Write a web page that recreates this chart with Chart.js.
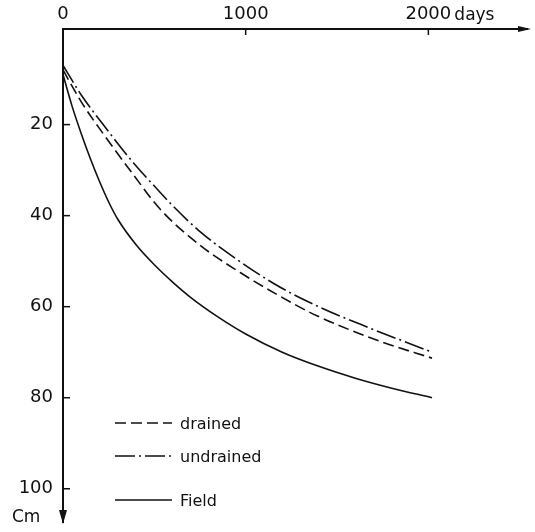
<!DOCTYPE html>
<html>
<head>
<meta charset="utf-8">
<script src="https://cdn.jsdelivr.net/npm/chart.js@4/dist/chart.umd.min.js"></script>
<style>
  html, body { margin: 0; padding: 0; background: #fff; }
  #wrap { width: 535px; height: 532px; }
</style>
</head>
<body>
<div id="wrap"><canvas id="myChart" width="535" height="532"></canvas></div>
<script>
// settlement curves, depth in cm against time in days
var drainedDays = [0, 100, 220, 385, 530, 750, 970, 1170, 1390, 1750, 2020];
var drainedDepth = [8, 15, 22, 31, 38.5, 46.5, 52.5, 57.3, 62, 67.8, 71.3];

var undrainedDays = [0, 100, 220, 385, 500, 600, 750, 930, 1170, 1400, 1680, 2020];
var undrainedDepth = [7, 13.5, 20, 28.4, 33.5, 37.8, 43.5, 49, 55.3, 60, 64.7, 70];

var fieldDays = [0, 50, 100, 150, 200, 250, 300, 400, 500, 600, 700, 850, 1000, 1200, 1400, 1600, 1800, 2020];
var fieldDepth = [9, 16, 22, 27.5, 32.5, 37, 40.8, 46.4, 50.8, 54.6, 58, 62.3, 66, 70, 73.1, 75.7, 77.9, 80];

var seriesLabels = ['drained', 'undrained', 'Field'];
var xTicks = [0, 1000, 2000];
var yTicks = [20, 40, 60, 80, 100];

function pts(xs, ys) {
  return xs.map(function (v, i) { return { x: v, y: ys[i] }; });
}

var ink = '#111';

// axis ticks pointing inwards, arrows, hand-placed legend and units
var extras = {
  id: 'extras',
  afterDraw: function (chart) {
    var ctx = chart.ctx, a = chart.chartArea;
    var sx = chart.scales.x, sy = chart.scales.y;
    ctx.save();
    ctx.strokeStyle = ink;
    ctx.fillStyle = ink;
    ctx.lineWidth = 1.5;
    function line(x1, y1, x2, y2) {
      ctx.beginPath(); ctx.moveTo(x1, y1); ctx.lineTo(x2, y2); ctx.stroke();
    }
    yTicks.forEach(function (v) {
      var py = sy.getPixelForValue(v);
      line(a.left, py, a.left + 7, py);
    });
    xTicks.slice(1).forEach(function (v) {
      var px = sx.getPixelForValue(v);
      line(px, a.top, px, a.top + 6);
    });
    // arrow heads
    ctx.beginPath();
    ctx.moveTo(a.right + 4, a.top);
    ctx.lineTo(a.right - 9, a.top - 3);
    ctx.lineTo(a.right - 9, a.top + 3);
    ctx.closePath(); ctx.fill();
    ctx.beginPath();
    ctx.moveTo(a.left, a.bottom + 2);
    ctx.lineTo(a.left - 4, a.bottom - 12);
    ctx.lineTo(a.left + 4, a.bottom - 12);
    ctx.closePath(); ctx.fill();

    // legend
    var legendY = [423, 456, 500];
    ctx.font = '16px "DejaVu Sans"';
    ctx.textBaseline = 'middle';
    ctx.textAlign = 'left';
    chart.data.datasets.forEach(function (ds, i) {
      ctx.lineWidth = 1.6;
      ctx.setLineDash(ds.borderDash || []);
      line(115, legendY[i], 172, legendY[i]);
      ctx.setLineDash([]);
      ctx.fillText(ds.label, 180, legendY[i] + 2);
    });

    // units
    ctx.font = '17px "DejaVu Sans"';
    ctx.fillText('days', sx.getPixelForValue(2000) + 26, 16);
    ctx.fillText('Cm', 12, 518);
    ctx.restore();
  }
};

function noPad(s) {
  s.paddingTop = 0; s.paddingBottom = 0; s.paddingLeft = 0; s.paddingRight = 0;
}

var ctx = document.getElementById('myChart').getContext('2d');
var chart = new Chart(ctx, {
  type: 'line',
  data: {
    datasets: [{
      label: seriesLabels[0],
      data: pts(drainedDays, drainedDepth),
      borderColor: ink,
      borderWidth: 1.6,
      borderDash: [11, 5],
      pointRadius: 0,
      fill: false,
      cubicInterpolationMode: 'monotone'
    }, {
      label: seriesLabels[1],
      data: pts(undrainedDays, undrainedDepth),
      borderColor: ink,
      borderWidth: 1.6,
      borderDash: [20, 4, 2, 4],
      pointRadius: 0,
      fill: false,
      cubicInterpolationMode: 'monotone'
    }, {
      label: seriesLabels[2],
      data: pts(fieldDays, fieldDepth),
      borderColor: ink,
      borderWidth: 1.6,
      pointRadius: 0,
      fill: false,
      cubicInterpolationMode: 'monotone'
    }]
  },
  options: {
    responsive: false,
    animation: false,
    layout: { padding: { top: 0, right: 8, bottom: 10, left: 0 } },
    plugins: {
      legend: { display: false },
      tooltip: { enabled: false }
    },
    scales: {
      x: {
        type: 'linear',
        position: 'top',
        min: 0,
        max: 2540,
        afterBuildTicks: function (s) { s.ticks = xTicks.map(function (v) { return { value: v }; }); },
        afterFit: function (s) { s.height = 29; noPad(s); },
        grid: { display: false, drawTicks: false },
        border: { display: true, color: ink, width: 2 },
        ticks: {
          color: ink,
          padding: 4,
          maxRotation: 0,
          callback: function (v) { return String(v); },
          font: { family: 'DejaVu Sans', size: 18 }
        }
      },
      y: {
        type: 'linear',
        reverse: true,
        min: -1,
        max: 107.3,
        afterBuildTicks: function (s) { s.ticks = yTicks.map(function (v) { return { value: v }; }); },
        afterFit: function (s) { s.width = 63; noPad(s); },
        grid: { display: false, drawTicks: false },
        border: { display: true, color: ink, width: 2 },
        ticks: {
          color: ink,
          padding: 10,
          callback: function (v) { return String(v); },
          font: { family: 'DejaVu Sans', size: 18 }
        }
      }
    }
  },
  plugins: [extras]
});
</script>
</body>
</html>
